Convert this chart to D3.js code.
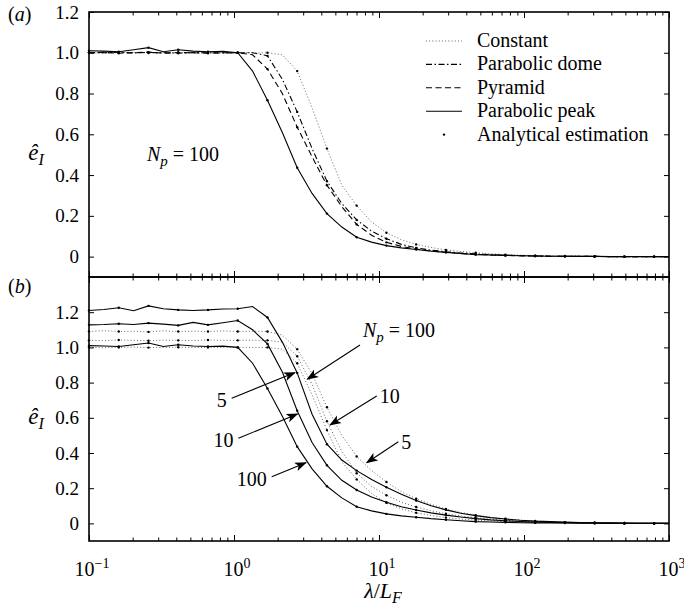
<!DOCTYPE html>
<html><head><meta charset="utf-8">
<script src="https://cdn.jsdelivr.net/npm/d3@7"></script>
<style>body{margin:0;background:#fff}</style>
</head><body>
<svg id="chart" width="684" height="606"></svg>
<script>
// ---------- data ----------
const lambda = [0.1,0.1266,0.1604,0.2031,0.2572,0.3257,0.4125,0.5223,0.6614,0.8377,
  1.0608,1.3434,1.7013,2.1544,2.7283,3.4551,4.3755,5.5412,7.017,8.8862,
  11.253,14.251,18.047,22.855,28.943,36.653,46.416,58.78,74.438,94.267,
  119.38,151.18,191.45,242.45,307.03,388.82,492.39,623.55,789.65,1000];

// panel (a): Np = 100
const constant100 = [1.000,0.998,1.000,1.002,0.999,1.000,1.001,0.999,1.000,1.000,
  1.000,1.000,1.000,0.990,0.910,0.730,0.530,0.350,0.250,0.170,
  0.117,0.083,0.060,0.045,0.033,0.025,0.019,0.014,0.010,0.007,
  0.005,0.004,0.003,0.002,0.001,0.001,0,0,0,0];
const dome100 = [1.002,1.000,1.003,0.999,1.002,1.000,0.998,1.001,1.000,0.999,
  1.000,1.000,0.985,0.870,0.710,0.530,0.370,0.260,0.180,0.125,
  0.088,0.060,0.043,0.032,0.024,0.018,0.013,0.009,0.007,0.005,
  0.003,0.002,0.002,0.001,0.001,0,0,0,0,0];
const pyramid100 = [1.000,1.002,0.998,1.000,1.003,0.998,1.001,1.000,0.998,1.000,
  1.000,0.990,0.920,0.800,0.635,0.490,0.350,0.245,0.158,0.105,
  0.070,0.050,0.037,0.028,0.021,0.015,0.011,0.008,0.006,0.004,
  0.003,0.002,0.002,0.001,0.001,0,0,0,0,0];
const peak100 = [1.010,1.008,1.005,1.015,1.025,1.005,1.015,1.008,1.005,1.007,
  1.000,0.910,0.767,0.609,0.436,0.310,0.211,0.145,0.095,0.071,
  0.054,0.043,0.035,0.027,0.021,0.015,0.010,0.008,0.006,0.004,
  0.003,0.002,0.002,0.001,0.001,0,0,0,0,0];

// panel (b): Np = 5, 10 (plus Np = 100 above)
const peak5 = [1.210,1.215,1.225,1.208,1.236,1.220,1.213,1.210,1.213,1.218,
  1.220,1.232,1.170,1.030,0.855,0.620,0.450,0.360,0.300,0.250,
  0.205,0.165,0.130,0.100,0.077,0.058,0.044,0.033,0.025,0.018,
  0.013,0.010,0.007,0.005,0.004,0.003,0.002,0.001,0.001,0];
const peak10 = [1.128,1.130,1.134,1.130,1.138,1.132,1.125,1.142,1.128,1.140,
  1.153,1.100,1.020,0.860,0.640,0.460,0.330,0.245,0.190,0.150,
  0.120,0.095,0.076,0.060,0.047,0.036,0.027,0.020,0.015,0.011,
  0.008,0.006,0.004,0.003,0.002,0.001,0.001,0,0,0];
const constant5 = [1.090,1.095,1.090,1.092,1.088,1.094,1.090,1.092,1.090,1.094,
  1.090,1.092,1.090,1.070,0.990,0.850,0.660,0.500,0.380,0.300,
  0.235,0.180,0.140,0.108,0.082,0.062,0.047,0.035,0.026,0.019,
  0.014,0.010,0.007,0.005,0.004,0.003,0.002,0.001,0.001,0];
const constant10 = [1.040,1.038,1.042,1.040,1.038,1.041,1.040,1.039,1.042,1.040,
  1.040,1.041,1.040,1.030,0.950,0.790,0.580,0.410,0.285,0.210,
  0.160,0.120,0.093,0.072,0.055,0.042,0.032,0.024,0.018,0.013,
  0.010,0.007,0.005,0.004,0.003,0.002,0.001,0.001,0,0];

const legendLabels = ["Constant","Parabolic dome","Pyramid","Parabolic peak","Analytical estimation"];
const yTicksA = [0,0.2,0.4,0.6,0.8,1.0,1.2];
const yTicksB = [0,0.2,0.4,0.6,0.8,1.0,1.2];
const xMajor = [0.1,1,10,100,1000];
const xMajorExp = ["\u22121","0","1","2","3"];

// annotations in panel (b): [label, tail λ, tail ê, tip λ, tip ê, side]
const annotB = [
  ["5",    0.964, 0.711, 2.634, 0.857, "left"],
  ["10",   1.072, 0.484, 2.745, 0.622, "left"],
  ["100",  1.820, 0.265, 3.138, 0.345, "left"],
  ["Np100",7.396, 1.014, 3.202, 0.819, "right"],
  ["10",   9.64,  0.724, 4.593, 0.559, "right"],
  ["5",    13.59, 0.464, 8.226, 0.345, "right"]
];

// ---------- layout ----------
const FONT = "Liberation Serif, Times New Roman, Times, Nimbus Roman, FreeSerif, Noto Serif, DejaVu Serif, serif";
const svg = d3.select("#chart");
const L = 89, R = 669;
const x = d3.scaleLog().domain([0.1,1000]).range([L,R]);
const yA = d3.scaleLinear().domain([-0.1,1.2]).range([277,12]);
const yB = d3.scaleLinear().domain([-0.1,1.4]).range([541,277]);

const styles = {
  constant: {dash:"1,2.2", width:0.9, color:"#555"},
  dome:     {dash:"6,2.5,1.5,2.5", width:1.1, color:"#000"},
  pyramid:  {dash:"6,3.5", width:1.1, color:"#000"},
  peak:     {dash:null, width:1.1, color:"#000"}
};

const defs = svg.append("defs");
defs.append("marker").attr("id","arr").attr("viewBox","0 -5 12 10")
  .attr("refX",11).attr("refY",0).attr("markerWidth",12).attr("markerHeight",10)
  .attr("markerUnits","userSpaceOnUse").attr("orient","auto")
  .append("path").attr("d","M0,-4.5 L12,0 L0,4.5 L3,0 Z").attr("fill","#000");

function txt(sel){ return sel.style("font-family",FONT).attr("fill","#000"); }

function drawLine(g, y, vals, st){
  const line = d3.line().x((d,i)=>x(lambda[i])).y(d=>y(d));
  g.append("path").datum(vals).attr("d",line).attr("fill","none")
    .attr("stroke",st.color).attr("stroke-width",st.width)
    .attr("stroke-dasharray",st.dash);
}
function drawDots(g, y, vals){
  g.selectAll(null).data(vals.filter((d,i)=>i%2===0)).enter().append("circle")
    .attr("cx",(d,i)=>x(lambda[i*2])).attr("cy",d=>y(d)).attr("r",1.2).attr("fill","#000");
}

function minorTicks(){
  const m=[];
  for(let e=-1;e<3;e++) for(let k=2;k<=9;k++) m.push(k*Math.pow(10,e));
  return m;
}

function frame(y, top, bottom, yTicks, showXLabels){
  const g = svg.append("g");
  const mk = (axis, tx, ty) => {
    const a = g.append("g").attr("transform",`translate(${tx},${ty})`).call(axis);
    a.attr("font-family",null);
    a.select(".domain").remove();
    a.selectAll("line").attr("stroke","#000").attr("stroke-width",1);
    return a;
  };
  mk(d3.axisBottom(x).tickValues(xMajor).tickSize(-6).tickFormat(""),0,bottom);
  mk(d3.axisBottom(x).tickValues(minorTicks()).tickSize(-3.5).tickFormat(""),0,bottom);
  mk(d3.axisTop(x).tickValues(xMajor).tickSize(-6).tickFormat(""),0,top);
  mk(d3.axisTop(x).tickValues(minorTicks()).tickSize(-3.5).tickFormat(""),0,top);
  const la = mk(d3.axisLeft(y).tickValues(yTicks).tickSize(-5).tickPadding(10)
      .tickFormat(d=> d===0 ? "0" : d.toFixed(1)), L, 0);
  txt(la.selectAll("text")).attr("font-size",19);
  mk(d3.axisRight(y).tickValues(yTicks).tickSize(-5).tickFormat(""), R, 0);
  g.append("rect").attr("x",L).attr("y",top).attr("width",R-L).attr("height",bottom-top)
    .attr("fill","none").attr("stroke","#000").attr("stroke-width",1.6);
  if(showXLabels){
    xMajor.forEach((v,i)=>{
      const t = txt(g.append("text")).attr("x",x(v)+3).attr("y",bottom+35)
        .attr("text-anchor","middle").attr("font-size",20);
      t.append("tspan").text("10");
      t.append("tspan").attr("dy",-8).attr("font-size",14).text(xMajorExp[i]);
    });
  }
  return g;
}

function yLabel(cy){
  const t = txt(svg.append("text")).attr("x",36).attr("y",cy).attr("text-anchor","middle").attr("font-size",23);
  t.append("tspan").attr("font-style","italic").text("\u00ea");
  t.append("tspan").attr("font-style","italic").attr("font-size",16).attr("dy",5).text("I");
}

// ---------- panel (a) ----------
const gA = svg.append("g");
drawLine(gA, yA, constant100, styles.constant);
drawLine(gA, yA, dome100, styles.dome);
drawLine(gA, yA, pyramid100, styles.pyramid);
drawLine(gA, yA, peak100, styles.peak);
[constant100, dome100, pyramid100, peak100].forEach(v=>drawDots(gA, yA, v));
frame(yA, 12, 277, yTicksA, false);
yLabel(160);
{
  const t = txt(svg.append("text")).attr("x",8).attr("y",21).attr("font-size",20);
  t.append("tspan").text("(");
  t.append("tspan").attr("font-style","italic").text("a");
  t.append("tspan").text(")");
}

{
  const t = txt(svg.append("text")).attr("x",147).attr("y",161).attr("font-size",20);
  t.append("tspan").attr("font-style","italic").text("N");
  t.append("tspan").attr("font-style","italic").attr("font-size",15).attr("dy",5).text("p");
  t.append("tspan").attr("dy",-5).text(" = 100");
}

const legStyles = [styles.constant, styles.dome, styles.pyramid, styles.peak];
legendLabels.forEach((lab,i)=>{
  const by = 47 + i*23.4;
  if(i<4){
    const st = legStyles[i];
    svg.append("line").attr("x1",426).attr("x2",462).attr("y1",by-6).attr("y2",by-6)
      .attr("stroke",st.color).attr("stroke-width",st.width).attr("stroke-dasharray",st.dash);
  } else {
    svg.append("circle").attr("cx",444).attr("cy",by-6).attr("r",1.2).attr("fill","#000");
  }
  txt(svg.append("text")).attr("x",477).attr("y",by).attr("font-size",20).text(lab);
});

// ---------- panel (b) ----------
const gB = svg.append("g");
[constant100, constant10, constant5].forEach(v=>drawLine(gB, yB, v, styles.constant));
[peak100, peak10, peak5].forEach(v=>drawLine(gB, yB, v, styles.peak));
[constant100, constant10, constant5, peak100, peak10, peak5].forEach(v=>drawDots(gB, yB, v));
frame(yB, 277, 541, yTicksB, true);
yLabel(424);
{
  const t = txt(svg.append("text")).attr("x",8).attr("y",293).attr("font-size",20);
  t.append("tspan").text("(");
  t.append("tspan").attr("font-style","italic").text("b");
  t.append("tspan").text(")");
}

annotB.forEach(a=>{
  const [lab, tl, tv, hl, hv, side] = a;
  const x1 = x(tl), y1 = yB(tv), x2 = x(hl), y2 = yB(hv);
  svg.append("line").attr("x1",x1).attr("y1",y1).attr("x2",x2).attr("y2",y2)
    .attr("stroke","#000").attr("stroke-width",1.1).attr("marker-end","url(#arr)");
  let t;
  if(side==="left"){
    t = txt(svg.append("text")).attr("x",x1-5).attr("y",y1+9).attr("text-anchor","end").attr("font-size",20);
  } else {
    t = txt(svg.append("text")).attr("x",x1+3).attr("y",y1 + (lab==="Np100" ? -8 : 7)).attr("font-size",20);
  }
  if(lab==="Np100"){
    t.append("tspan").attr("font-style","italic").text("N");
    t.append("tspan").attr("font-style","italic").attr("font-size",15).attr("dy",5).text("p");
    t.append("tspan").attr("dy",-5).text(" = 100");
  } else t.text(lab);
});

{
  const t = txt(svg.append("text")).attr("x",383).attr("y",598).attr("text-anchor","middle").attr("font-size",22);
  t.append("tspan").attr("font-style","italic").text("\u03bb");
  t.append("tspan").text("/");
  t.append("tspan").attr("font-style","italic").text("L");
  t.append("tspan").attr("font-style","italic").attr("font-size",16).attr("dy",5).text("F");
}
</script>
</body></html>
